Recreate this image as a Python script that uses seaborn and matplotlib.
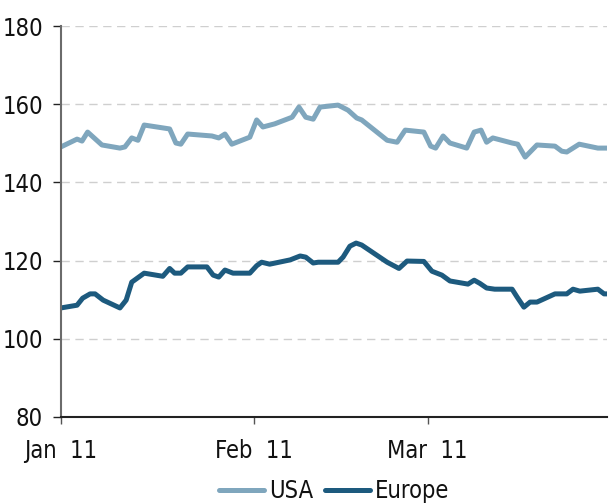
import pandas as pd
import matplotlib.pyplot as plt
import seaborn as sns

# Index levels, days counted from 1 Jan 2011
start = pd.Timestamp("2011-01-01")

usa_days = [0.0, 2.6, 3.4, 4.3, 6.6, 9.5, 10.3, 11.4, 12.4, 13.4, 17.5, 18.5, 19.3,
            20.4, 24.3, 25.4, 26.4, 27.5, 30.4, 31.5, 32.5, 34.4, 37.2, 38.3, 39.4,
            40.6, 41.7, 44.6, 46.2, 47.6, 48.4, 52.5, 54.1, 55.4, 58.4, 59.5, 60.3,
            61.5, 62.6, 65.3, 66.5, 67.6, 68.5, 69.5, 72.6, 73.5, 74.7, 76.6, 79.5,
            80.6, 81.4, 83.4, 86.4, 87.9]
usa_values = [149.1, 151.1, 150.6, 152.9, 149.6, 148.8, 149.1, 151.4, 150.8, 154.7,
              153.7, 150.1, 149.8, 152.4, 151.9, 151.4, 152.4, 149.8, 151.6, 156.0,
              154.2, 155.0, 156.7, 159.3, 156.7, 156.2, 159.3, 159.8, 158.5, 156.5,
              156.0, 150.8, 150.3, 153.4, 152.9, 149.3, 148.8, 151.9, 150.1, 148.8,
              152.9, 153.4, 150.3, 151.4, 150.1, 149.8, 146.5, 149.6, 149.3, 148.0,
              147.8, 149.8, 148.8, 148.8]

europe_days = [0.0, 2.6, 3.5, 4.7, 5.5, 6.8, 9.5, 10.5, 11.4, 13.4, 16.4, 17.5, 18.3,
               19.3, 20.4, 23.5, 24.5, 25.4, 26.4, 27.7, 30.4, 31.5, 32.3, 33.6, 36.9,
               38.5, 39.4, 40.6, 41.4, 44.6, 45.4, 46.5, 47.5, 48.4, 52.5, 54.4, 55.7,
               58.4, 59.7, 61.3, 62.6, 65.5, 66.5, 67.4, 68.5, 69.8, 72.6, 73.4, 74.5,
               75.5, 76.6, 79.5, 81.4, 82.4, 83.5, 86.4, 87.4, 87.9]
europe_values = [107.9, 108.6, 110.4, 111.5, 111.5, 109.9, 107.9, 109.9, 114.5, 116.8,
                 116.0, 118.0, 116.8, 116.8, 118.4, 118.4, 116.3, 115.8, 117.6, 116.8,
                 116.8, 118.7, 119.6, 119.1, 120.2, 121.2, 120.9, 119.4, 119.6, 119.6,
                 120.9, 123.7, 124.5, 124.0, 119.6, 118.0, 119.9, 119.8, 117.3, 116.3,
                 114.8, 114.0, 115.0, 114.2, 113.0, 112.7, 112.7, 110.7, 108.1, 109.4,
                 109.4, 111.5, 111.5, 112.7, 112.2, 112.7, 111.5, 111.5]

tick_dates = ["2011-01-01", "2011-02-01", "2011-03-01"]
y_ticks = [80, 100, 120, 140, 160, 180]

df = pd.concat([
    pd.DataFrame({"date": start + pd.to_timedelta(usa_days, unit="D"),
                  "value": usa_values, "region": "USA"}),
    pd.DataFrame({"date": start + pd.to_timedelta(europe_days, unit="D"),
                  "value": europe_values, "region": "Europe"}),
])

sns.set_style("white")
plt.rcParams["font.family"] = ["DejaVu Sans"]
plt.rcParams["font.stretch"] = "condensed"
plt.rcParams["font.size"] = 17

fig, ax = plt.subplots(figsize=(6.09, 5.03), dpi=100)
fig.subplots_adjust(left=0.100, right=0.997, bottom=0.171, top=0.948)

sns.lineplot(data=df, x="date", y="value", hue="region",
             palette={"USA": "#7fa6bd", "Europe": "#1d5a7e"},
             linewidth=3.6, ax=ax)

ax.set_ylim(80, 180)
ax.set_yticks(y_ticks)
ax.set_xlim(start, df["date"].max())
ax.set_xticks(pd.to_datetime(tick_dates))
ax.set_xticklabels([pd.Timestamp(d).strftime("%b  %y") for d in tick_dates])
ax.set_xlabel("")
ax.set_ylabel("")

ax.yaxis.grid(True, linestyle=(0, (6, 4)), color="#cfcfcf", linewidth=1)
ax.set_axisbelow(True)

sns.despine(ax=ax)
ax.spines["left"].set_color("#6b6b6b")
ax.spines["left"].set_linewidth(1.5)
ax.spines["bottom"].set_color("#222222")
ax.spines["bottom"].set_linewidth(1.5)

ax.tick_params(axis="y", direction="out", length=6, width=1, color="#222222",
               labelcolor="#111111", pad=7, left=True)
ax.tick_params(axis="x", direction="out", length=5, width=1, color="#555555",
               labelcolor="#111111", pad=11, bottom=True)

handles, labels = ax.get_legend_handles_labels()
ax.legend(handles, labels, loc="center", bbox_to_anchor=(0.5, -0.19), ncol=2,
          frameon=False, handlelength=1.9, handletextpad=0.2, columnspacing=0.5,
          fontsize=17, labelcolor="#111111")

fig.savefig("out.png", dpi=100)
